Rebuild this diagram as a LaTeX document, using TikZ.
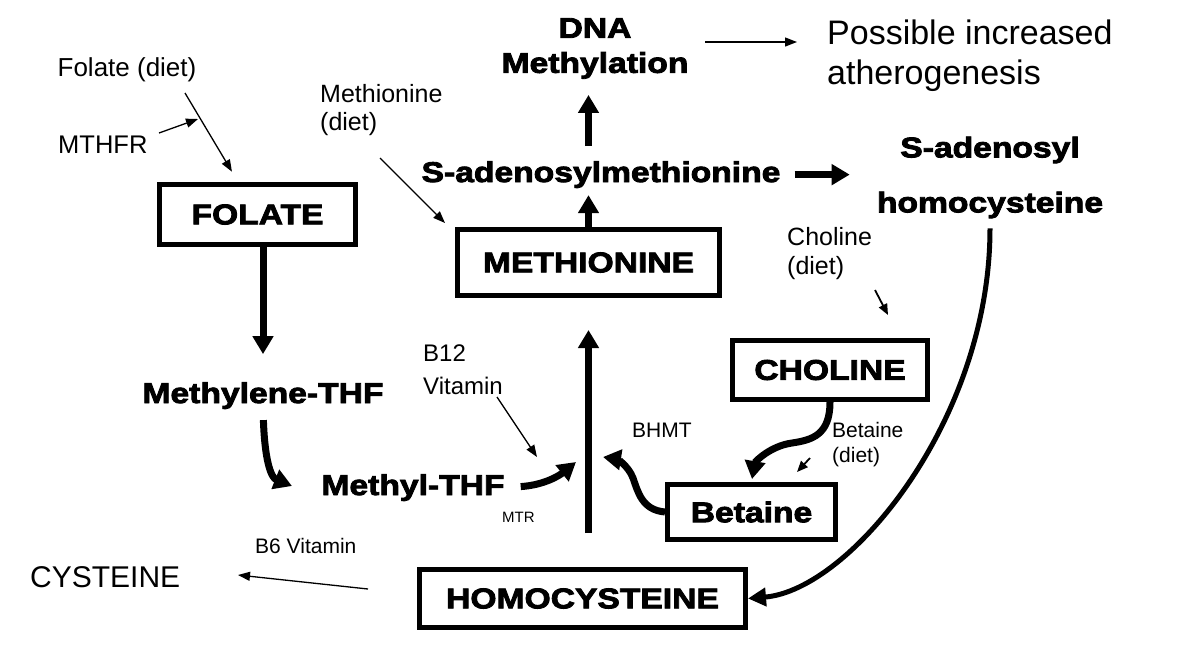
\documentclass[tikz,border=0pt]{standalone}
\usepackage{fontspec}
\setmainfont{Liberation Sans}
\newfontfamily\heavy{Liberation Sans Bold}[FakeBold=3,FakeStretch=1.18]
\usetikzlibrary{arrows.meta,calc}
\begin{document}
\begin{tikzpicture}[x=1pt,y=-1pt,
  box/.style={draw, line width=5pt, inner sep=0pt, font=\heavy\fontsize{28.5}{34}\selectfont},
  bold/.style={inner sep=0pt, font=\heavy\fontsize{28.5}{34}\selectfont},
  lab/.style={inner sep=0pt},
  fat/.style={line width=7pt, -{Triangle[width=20pt,length=18pt]}},
  med/.style={line width=5pt, -{Triangle[width=18pt,length=18pt]}},
  thin/.style={line width=1.3pt, -{Triangle[width=9pt,length=12pt]}},
  small/.style={line width=1.8pt, -{Triangle[width=9pt,length=11pt]}}]
\useasboundingbox (0,0) rectangle (1200,654);

% boxes
\node[box, minimum width=196pt, minimum height=60pt] (folate) at (257.5,214.5) {FOLATE};
\node[box, minimum width=262pt, minimum height=66pt] (methionine) at (588.5,262.5) {METHIONINE};
\node[box, minimum width=195pt, minimum height=59pt] (choline) at (830,370) {CHOLINE};
\node[box, minimum width=168pt, minimum height=55pt] (betaine) at (751.5,512) {Betaine};
\node[box, minimum width=326pt, minimum height=58pt] (homocys) at (582.5,598.5) {HOMOCYSTEINE};

% bold labels
\node[bold, anchor=base] (sam) at (601,182) {S-adenosylmethionine};
\node[bold, anchor=north, align=center, font=\heavy\fontsize{28.5}{35}\selectfont] (dna) at (595,18) {DNA\\Methylation};
\node[bold, anchor=north, align=center, font=\heavy\fontsize{28.5}{55}\selectfont] (sah) at (990,136.5) {S-adenosyl\\homocysteine};
\node[bold, anchor=base] (methylene) at (263,403) {Methylene-THF};
\node[bold, anchor=base] (methyl) at (413,495) {Methyl-THF};

% plain labels
\node[lab, anchor=base, font=\fontsize{26}{30}\selectfont] (folatediet) at (127,76) {Folate (diet)};
\node[lab, anchor=base west, font=\fontsize{25.5}{30}\selectfont] (mthfr) at (58,153) {MTHFR};
\node[lab, anchor=north west, align=left, font=\fontsize{25}{28}\selectfont] (metdiet) at (320,84) {Methionine\\(diet)};
\node[lab, anchor=north west, align=left, font=\fontsize{34}{40}\selectfont] (possible) at (827,20) {Possible increased\\atherogenesis};
\node[lab, anchor=north west, align=left, font=\fontsize{25}{29}\selectfont] (cholinediet) at (787,227) {Choline\\(diet)};
\node[lab, anchor=north west, align=left, font=\fontsize{21}{25}\selectfont] (betainediet) at (832,422) {Betaine\\(diet)};
\node[lab, anchor=base west, font=\fontsize{21}{25}\selectfont] (bhmt) at (632,437) {BHMT};
\node[lab, anchor=north west, align=left, font=\fontsize{24}{33}\selectfont] (b12) at (423,345) {B12\\Vitamin};
\node[lab, anchor=base west, font=\fontsize{15}{18}\selectfont] (mtr) at (502,522) {MTR};
\node[lab, anchor=base west, font=\fontsize{21}{25}\selectfont] (b6) at (255,553) {B6 Vitamin};
\node[lab, anchor=base west, font=\fontsize{30}{36}\selectfont] (cysteine) at (30,587) {CYSTEINE};

% free ends
\coordinate (fd1) at (185,93);
\coordinate (m1) at (159,133);
\coordinate (m2) at (198,119);
\coordinate (md1) at (380,158);
\coordinate (md2) at (445,223);
\coordinate (p1) at (705,42);
\coordinate (p2) at (797,42);
\coordinate (cd1) at (875,290);
\coordinate (cd2) at (888,315);
\coordinate (bd1) at (810,458);
\coordinate (bd2) at (797,472);
\coordinate (v1) at (497,397);
\coordinate (v2) at (537,457);
\coordinate (c1) at (368,589);
\coordinate (c2) at (238,575);
\coordinate (mtin) at (292,486);
\coordinate (mtrtip) at (576,462);
\coordinate (bhmttip) at (603,457);

% thick connectors
\draw[fat] (folate.south -| methylene.north) -- ([yshift=28pt]methylene.north);
\draw[fat, shorten >=7pt] (methionine.north) -- (methionine.north |- sam.south);
\draw[fat, shorten <=15pt, shorten >=16pt] (methionine.north |- sam.north) -- (methionine.north |- dna.south);
\draw[fat, shorten <=14pt, shorten >=27pt] (sam.east) -- (sam.east -| sah.west);
\draw[med, shorten <=10pt] (sah.south) .. controls (990,420) and (850,590) .. (homocys.east);
\draw[fat, shorten <=11pt] (methylene.south) .. controls (265,465) and (272,478) .. (mtin);
\draw[fat, shorten <=16pt] (methyl.east) .. controls (545,485) and (560,475) .. (mtrtip);
\draw[fat, shorten <=34pt, shorten >=32pt] (homocys.north -| methionine.south) -- (methionine.south);
\draw[fat, shorten >=3pt] (choline.south) .. controls (830,435) and (812,440) .. (792,443) .. controls (770,446) and (755,462) .. (betaine.north);
\draw[fat] (betaine.west) .. controls (642,510) and (638,492) .. (633,478) .. controls (628,465) and (616,459) .. (bhmttip);

% thin connectors
\draw[thin, shorten >=12pt] (fd1) -- (folate);
\draw[thin] (m1) -- (m2);
\draw[thin] (md1) -- (md2);
\draw[thin] (p1) -- (p2);
\draw[small] (cd1) -- (cd2);
\draw[small] (bd1) -- (bd2);
\draw[thin] (v1) -- (v2);
\draw[thin] (c1) -- (c2);
\end{tikzpicture}
\end{document}
